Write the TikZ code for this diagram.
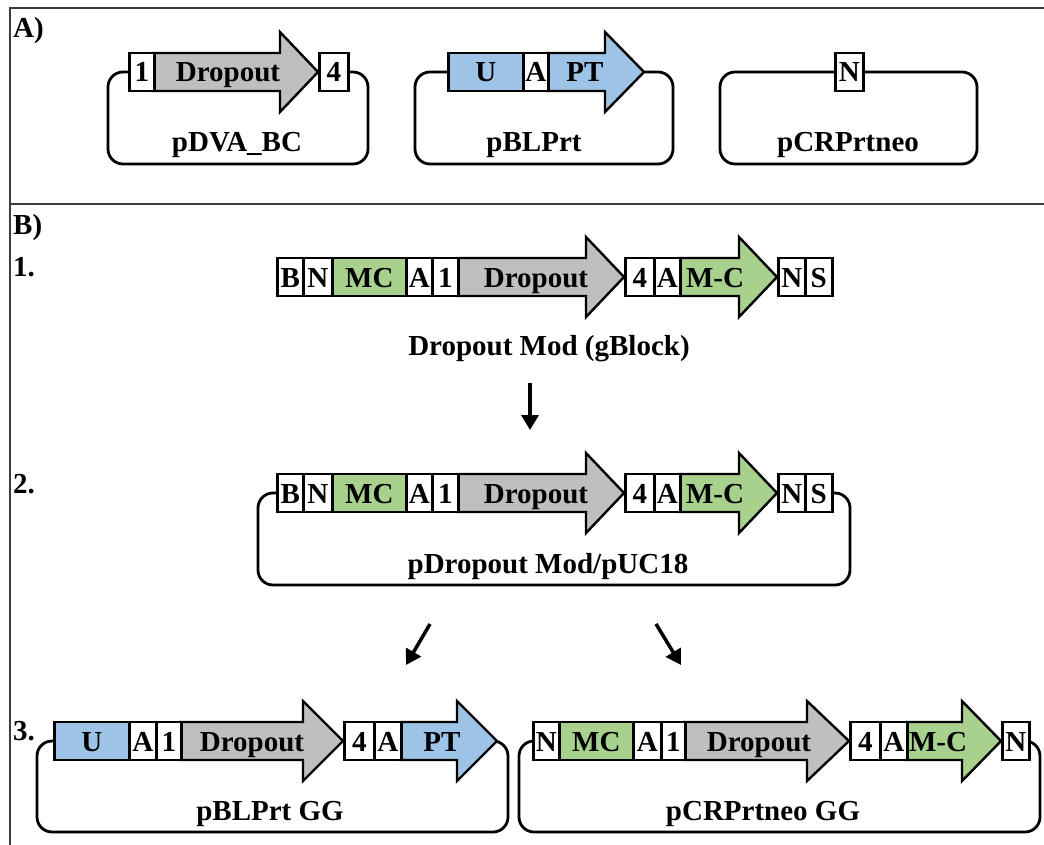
\documentclass[tikz,border=0pt]{standalone}
\usepackage{fontspec}
\setmainfont{Liberation Serif}
\usetikzlibrary{arrows.meta}
\definecolor{dgray}{RGB}{191,191,191}
\definecolor{dblue}{RGB}{157,195,230}
\definecolor{dgreen}{RGB}{169,209,142}
\definecolor{framec}{RGB}{60,60,60}
\newcommand\lblfont{\fontsize{29}{29}\selectfont\bfseries}
\tikzset{
  seg/.style={draw=black, line width=2.6pt, inner sep=0pt, minimum height=38pt, text height=20pt, text depth=0pt, font=\lblfont, anchor=west},
  arw/.style={draw=black, line width=2.4pt, line join=miter},
  txt/.style={inner sep=0pt, text height=20pt, text depth=0pt, font=\lblfont},
  lbl/.style={inner sep=0pt, font=\lblfont},
  bb/.style={draw=black, line width=2.8pt, rounded corners=15pt},
  framel/.style={draw=framec, line width=1.8pt},
  conn/.style={draw=black, line width=3.5pt, -{Triangle[width=17pt,length=15pt]}}
}
% name, x0, x1, cy, fill, text
\newcommand\Seg[6]{\node[seg, fill=#5, minimum width={#3-#2}] (#1) at (#2,#4) {#6};}
% name, x0, neck, tip, cy, fill, text centre x, text
\newcommand\DnaArrow[8]{%
  \draw[arw, fill=#6] (#2,#5-19) -- (#3,#5-19) -- (#3,#5-40) -- (#4,#5) -- (#3,#5+40) -- (#3,#5+19) -- (#2,#5+19) -- cycle;
  \node[txt] (#1) at (#7,#5) {#8};}
\begin{document}
\begin{tikzpicture}[x=1pt,y=-1pt]
\useasboundingbox[fill=white] (0,0) rectangle (1044,845);
% frame
\draw[framel] (10,845) -- (10,8) -- (1044,8);
\draw[framel] (10,204) -- (1044,204);
\node[lbl, anchor=north west] (tA) at (13,17) {A)};
\node[lbl, anchor=north west] (tB) at (13,214) {B)};
\node[lbl, anchor=north west] (t1) at (13,257) {1.};
\node[lbl, anchor=north west] (t2) at (13,474) {2.};
\node[lbl, anchor=north west] (t3) at (13,721) {3.};

% ---------- Panel A ----------
% pDVA_BC
\draw[bb] (108,72) rectangle (368,164);
\DnaArrow{aDrop}{153}{280}{318}{72}{dgray}{228}{Dropout}
\Seg{a1}{128}{153}{72}{white}{1}
\Seg{a4}{318}{347}{72}{white}{4}
\node[lbl, anchor=base] (lpDVA) at (237,152) {pDVA\_BC};
% pBLPrt
\draw[bb] (415,72) rectangle (673,164);
\DnaArrow{aPT}{547}{605}{644}{72}{dblue}{585}{PT}
\Seg{aU}{447}{522}{72}{dblue}{U}
\Seg{aA}{522}{547}{72}{white}{A}
\node[lbl, anchor=base] (lpBL) at (534,152) {pBLPrt};
% pCRPrtneo
\draw[bb] (720,72) rectangle (977,164);
\Seg{aN}{834}{862}{72}{white}{N}
\node[lbl, anchor=base] (lpCR) at (848,152) {pCRPrtneo};

% ---------- Row 1 ----------
\DnaArrow{r1Drop}{457}{586}{624}{277}{dgray}{536}{Dropout}
\DnaArrow{r1MC2}{679}{739}{777}{277}{dgreen}{715}{M-C}
\Seg{r1B}{276}{302}{277}{white}{B}
\Seg{r1N}{302}{331}{277}{white}{N}
\Seg{r1MC}{331}{405}{277}{dgreen}{MC}
\Seg{r1A}{405}{431}{277}{white}{A}
\Seg{r1one}{431}{457}{277}{white}{1}
\Seg{r1four}{624}{653}{277}{white}{4}
\Seg{r1A2}{653}{679}{277}{white}{A}
\Seg{r1N2}{777}{804}{277}{white}{N}
\Seg{r1S}{804}{831}{277}{white}{S}
\node[lbl, anchor=base] (l1) at (549,355) {Dropout Mod (gBlock)};

% ---------- Row 2 ----------
\draw[bb] (258,493) rectangle (850,585);
\DnaArrow{r2Drop}{457}{586}{624}{493}{dgray}{536}{Dropout}
\DnaArrow{r2MC2}{679}{739}{777}{493}{dgreen}{715}{M-C}
\Seg{r2B}{276}{302}{493}{white}{B}
\Seg{r2N}{302}{331}{493}{white}{N}
\Seg{r2MC}{331}{405}{493}{dgreen}{MC}
\Seg{r2A}{405}{431}{493}{white}{A}
\Seg{r2one}{431}{457}{493}{white}{1}
\Seg{r2four}{624}{653}{493}{white}{4}
\Seg{r2A2}{653}{679}{493}{white}{A}
\Seg{r2N2}{777}{804}{493}{white}{N}
\Seg{r2S}{804}{831}{493}{white}{S}
\node[lbl, anchor=base] (l2) at (548,573) {pDropout Mod/pUC18};

% ---------- Row 3 left ----------
\draw[bb] (37,741) rectangle (508,832);
\DnaArrow{r3Drop}{180}{303}{343}{741}{dgray}{252}{Dropout}
\DnaArrow{r3PT}{400}{457}{497}{741}{dblue}{442}{PT}
\Seg{r3U}{53}{128}{741}{dblue}{U}
\Seg{r3A}{128}{155}{741}{white}{A}
\Seg{r3one}{155}{180}{741}{white}{1}
\Seg{r3four}{343}{373}{741}{white}{4}
\Seg{r3A2}{373}{400}{741}{white}{A}
\node[lbl, anchor=base] (l3a) at (270,820) {pBLPrt GG};

% ---------- Row 3 right ----------
\draw[bb] (519,741) rectangle (1040,832);
\DnaArrow{r4Drop}{684}{807}{849}{741}{dgray}{759}{Dropout}
\DnaArrow{r4MC2}{906}{962}{1001}{741}{dgreen}{938}{M-C}
\Seg{r4N}{532}{558}{741}{white}{N}
\Seg{r4MC}{558}{632}{741}{dgreen}{MC}
\Seg{r4A}{632}{660}{741}{white}{A}
\Seg{r4one}{660}{684}{741}{white}{1}
\Seg{r4four}{849}{879}{741}{white}{4}
\Seg{r4A2}{879}{906}{741}{white}{A}
\Seg{r4N2}{1001}{1028}{741}{white}{N}
\node[lbl, anchor=base] (l3b) at (763,820) {pCRPrtneo GG};

% ---------- connectors ----------
\coordinate (c1s) at (530,383);
\coordinate (c1e) at (530,430);
\coordinate (c2s) at (430,624);
\coordinate (c2e) at (406,665);
\coordinate (c3s) at (656,624);
\coordinate (c3e) at (681,665);
\draw[conn] (c1s) -- (c1e);
\draw[conn] (c2s) -- (c2e);
\draw[conn] (c3s) -- (c3e);
\end{tikzpicture}
\end{document}
